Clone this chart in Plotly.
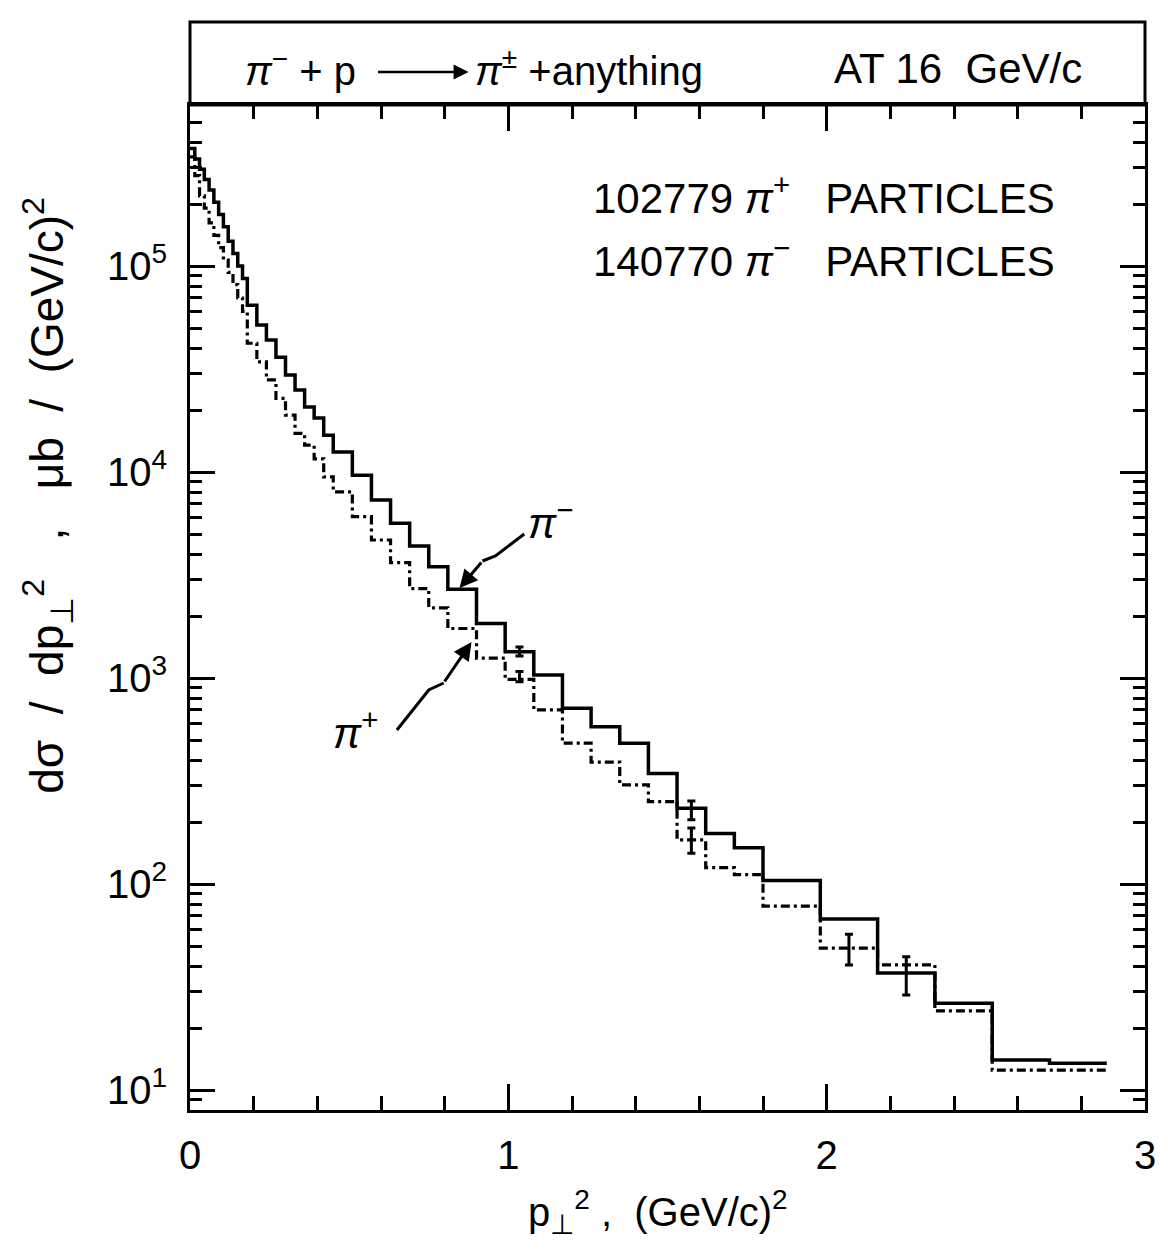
import plotly.graph_objects as go

# ---------------- data ----------------
bin_edges = [0, 0.015, 0.03, 0.045, 0.06, 0.075, 0.09, 0.105, 0.12, 0.135, 0.15, 0.165, 0.18,
             0.21, 0.24, 0.27, 0.30, 0.33, 0.36, 0.39, 0.42, 0.45,
             0.51, 0.57, 0.63, 0.69, 0.75, 0.81,
             0.90, 0.99, 1.08, 1.17, 1.26, 1.35, 1.44, 1.53, 1.62, 1.71, 1.80,
             1.98, 2.16, 2.34, 2.52, 2.70, 2.88]

pi_minus = [372000, 331000, 295000, 263000, 234000, 204000, 178000, 155000, 132000, 115000, 100000, 87100,
            64600, 51800, 43800, 36100, 29600, 25000, 20700, 18300, 15100,
            12500, 9660, 7310, 5650, 4380, 3470,
            2700, 1840, 1340, 1035, 713, 581, 483, 344, 233, 176, 150,
            104, 67.6, 37.0, 26.4, 14.0, 13.5]

pi_plus = [339000, 275000, 219000, 191000, 162000, 141000, 123000, 107000, 93300, 81300, 70000, 60300,
           42200, 34300, 28000, 22800, 18900, 15400, 13500, 11600, 9480,
           8020, 6070, 4680, 3630, 2720, 2190,
           1740, 1250, 986, 700, 483, 391, 303, 251, 164, 120, 111,
           78.2, 48.9, 40.5, 24.2, 12.5, 12.5]

pim_err_x = [1.035, 1.575, 2.25]
pim_err_c = [1340, 233, 37.0]
pim_err_lo = [1279, 205, 28.9]
pim_err_hi = [1413, 253, 44.3]

pip_err_x = [1.035, 1.575, 2.07]
pip_err_c = [986, 164, 48.9]
pip_err_lo = [960, 141, 40.4]
pip_err_hi = [1075, 187, 57.1]

x_tick_vals = [0, 1, 2, 3]
x_tick_text = ["0", "1", "2", "3"]
y_tick_vals = [10, 100, 1000, 10000, 100000]
y_tick_text = ["10<sup>1</sup>", "10<sup>2</sup>", "10<sup>3</sup>", "10<sup>4</sup>", "10<sup>5</sup>"]

# ---------------- layout geometry (pixels) ----------------
W, H = 1168, 1256
L, R, T, B = 190, 1150, 105, 1110
FONT = "Liberation Sans, Arial, sans-serif"


def px(x):
    return (x - L) / (R - L)


def py(y):
    return (B - y) / (B - T)


fig = go.Figure()

fig.add_trace(go.Scatter(
    x=bin_edges, y=pi_minus + [pi_minus[-1]], mode="lines", line_shape="hv",
    line=dict(color="black", width=3.5), showlegend=False, hoverinfo="skip"))

fig.add_trace(go.Scatter(
    x=bin_edges, y=pi_plus + [pi_plus[-1]], mode="lines", line_shape="hv",
    line=dict(color="black", width=3.2, dash="9px,4px,3px,4px"), showlegend=False, hoverinfo="skip"))

fig.add_trace(go.Scatter(
    x=pim_err_x, y=pim_err_c, mode="markers", marker=dict(size=1, color="rgba(0,0,0,0)"),
    error_y=dict(type="data", symmetric=False,
                 array=[h - c for h, c in zip(pim_err_hi, pim_err_c)],
                 arrayminus=[c - l for c, l in zip(pim_err_c, pim_err_lo)],
                 color="black", thickness=3, width=4),
    showlegend=False, hoverinfo="skip"))

fig.add_trace(go.Scatter(
    x=pip_err_x, y=pip_err_c, mode="markers", marker=dict(size=1, color="rgba(0,0,0,0)"),
    error_y=dict(type="data", symmetric=False,
                 array=[h - c for h, c in zip(pip_err_hi, pip_err_c)],
                 arrayminus=[c - l for c, l in zip(pip_err_c, pip_err_lo)],
                 color="black", thickness=3, width=4),
    showlegend=False, hoverinfo="skip"))

fig.update_xaxes(
    range=[0, 3], tickvals=x_tick_vals, ticktext=x_tick_text,
    ticks="inside", ticklen=26, tickwidth=2.5, tickcolor="black",
    minor=dict(dtick=0.2, tick0=0, ticks="inside", ticklen=14, tickwidth=2.5, tickcolor="black"),
    showline=True, linewidth=3, linecolor="black", mirror="ticks",
    showgrid=False, zeroline=False,
    tickfont=dict(family=FONT, size=40, color="black"), ticklabelstandoff=8)

fig.update_yaxes(
    type="log", range=[0.903, 5.782], tickvals=y_tick_vals, ticktext=y_tick_text,
    ticks="inside", ticklen=25, tickwidth=2.5, tickcolor="black",
    minor=dict(dtick="D1", ticks="inside", ticklen=12, tickwidth=2.5, tickcolor="black"),
    showline=True, linewidth=3, linecolor="black", mirror="ticks",
    showgrid=False, zeroline=False,
    tickfont=dict(family=FONT, size=40, color="black"), ticklabelstandoff=12)

shapes = [
    dict(type="rect", xref="paper", yref="paper", x0=0, x1=1, y0=1, y1=py(22),
         line=dict(color="black", width=3)),
    # lightning-style arrow shafts
    dict(type="path", xref="paper", yref="paper",
         path=f"M {px(526)},{py(534)} L {px(497)},{py(556)} L {px(484)},{py(561)}",
         line=dict(color="black", width=3)),
    dict(type="path", xref="paper", yref="paper",
         path=f"M {px(398)},{py(730)} L {px(430)},{py(690)} L {px(445)},{py(683)}",
         line=dict(color="black", width=3)),
]

annotations = [
    dict(text="<i>π</i><sup>−</sup> + p", x=px(243), y=py(68), xref="paper", yref="paper",
         xanchor="left", yanchor="middle", showarrow=False,
         font=dict(family=FONT, size=40, color="black")),
    dict(text="", x=px(470), y=py(72), xref="paper", yref="paper", ax=-92, ay=0,
         showarrow=True, arrowhead=2, arrowsize=1.2, arrowwidth=2.5, arrowcolor="black"),
    dict(text="<i>π</i><sup>±</sup> +anything", x=px(474), y=py(68), xref="paper", yref="paper",
         xanchor="left", yanchor="middle", showarrow=False,
         font=dict(family=FONT, size=40, color="black")),
    dict(text="AT 16  GeV/c", x=px(835), y=py(68), xref="paper", yref="paper",
         xanchor="left", yanchor="middle", showarrow=False,
         font=dict(family=FONT, size=42, color="black")),
    dict(text="102779 <i>π</i><sup>+</sup>   PARTICLES", x=px(1062), y=py(195), xref="paper", yref="paper",
         xanchor="right", yanchor="middle", showarrow=False,
         font=dict(family=FONT, size=42, color="black")),
    dict(text="140770 <i>π</i><sup>−</sup>   PARTICLES", x=px(1062), y=py(258), xref="paper", yref="paper",
         xanchor="right", yanchor="middle", showarrow=False,
         font=dict(family=FONT, size=42, color="black")),
    dict(text="<i>π</i><sup>−</sup>", x=px(528), y=py(520), xref="paper", yref="paper",
         xanchor="left", yanchor="middle", showarrow=False,
         font=dict(family=FONT, size=42, color="black")),
    dict(text="<i>π</i><sup>+</sup>", x=px(332), y=py(730), xref="paper", yref="paper",
         xanchor="left", yanchor="middle", showarrow=False,
         font=dict(family=FONT, size=42, color="black")),
    # arrowheads
    dict(text="", x=px(461), y=py(588), xref="paper", yref="paper", ax=23, ay=-27,
         showarrow=True, arrowhead=2, arrowsize=1.2, arrowwidth=3, arrowcolor="black"),
    dict(text="", x=px(473), y=py(642), xref="paper", yref="paper", ax=-28, ay=41,
         showarrow=True, arrowhead=2, arrowsize=1.2, arrowwidth=3, arrowcolor="black"),
    # axis titles
    dict(text="p<sub>⊥</sub><sup>2</sup> ,  (GeV/c)<sup>2</sup>", x=px(660), y=py(1212),
         xref="paper", yref="paper", xanchor="center", yanchor="middle", showarrow=False,
         font=dict(family=FONT, size=40, color="black")),
    dict(text="dσ  /  dp<sub>⊥</sub><sup>2</sup>   ,   μb  /  (GeV/c)<sup>2</sup>", x=px(46), y=py(495),
         xref="paper", yref="paper", xanchor="center", yanchor="middle", showarrow=False,
         textangle=-90, font=dict(family=FONT, size=46, color="black")),
]

fig.update_layout(
    width=W, height=H,
    margin=dict(l=L, r=W - R, t=T, b=H - B),
    paper_bgcolor="white", plot_bgcolor="white",
    shapes=shapes, annotations=annotations, showlegend=False)

fig.write_html("out.html")
